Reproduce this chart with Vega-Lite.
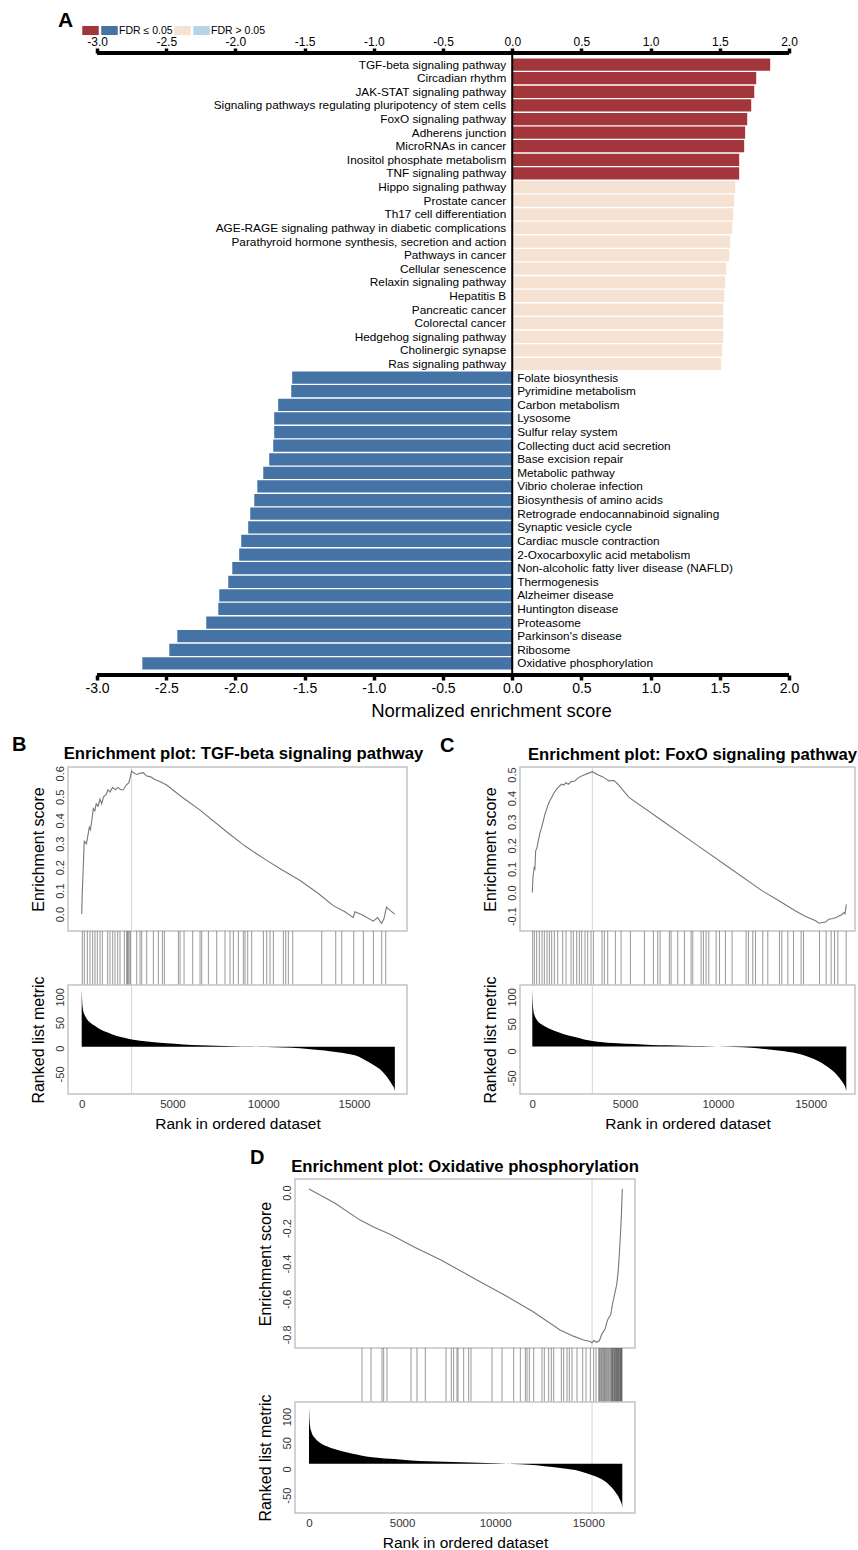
{
  "$schema": "https://vega.github.io/schema/vega-lite/v6.json",
  "background": "white",
  "padding": {"left": 12, "top": 10, "right": 0, "bottom": 0},
  "config": {
    "font": "Liberation Sans",
    "view": {"stroke": null},
    "axis": {"labelFont": "Liberation Sans", "titleFont": "Liberation Sans", "titleFontWeight": "normal", "grid": false, "ticks": false, "domain": false, "labelColor": "#333333", "titleColor": "black", "labelOverlap": false, "labelFlush": false, "labelBound": false},
    "title": {"font": "Liberation Sans", "color": "black"},
    "legend": {"labelFont": "Liberation Sans"}
  },
  "datasets": {
    "nes": [
      {"pathway": "TGF-beta signaling pathway", "nes": 1.864, "category": "Up FDR≤0.05"},
      {"pathway": "Circadian rhythm", "nes": 1.763, "category": "Up FDR≤0.05"},
      {"pathway": "JAK-STAT signaling pathway", "nes": 1.749, "category": "Up FDR≤0.05"},
      {"pathway": "Signaling pathways regulating pluripotency of stem cells", "nes": 1.727, "category": "Up FDR≤0.05"},
      {"pathway": "FoxO signaling pathway", "nes": 1.698, "category": "Up FDR≤0.05"},
      {"pathway": "Adherens junction", "nes": 1.683, "category": "Up FDR≤0.05"},
      {"pathway": "MicroRNAs in cancer", "nes": 1.676, "category": "Up FDR≤0.05"},
      {"pathway": "Inositol phosphate metabolism", "nes": 1.64, "category": "Up FDR≤0.05"},
      {"pathway": "TNF signaling pathway", "nes": 1.64, "category": "Up FDR≤0.05"},
      {"pathway": "Hippo signaling pathway", "nes": 1.611, "category": "Up FDR>0.05"},
      {"pathway": "Prostate cancer", "nes": 1.604, "category": "Up FDR>0.05"},
      {"pathway": "Th17 cell differentiation", "nes": 1.597, "category": "Up FDR>0.05"},
      {"pathway": "AGE-RAGE signaling pathway in diabetic complications", "nes": 1.59, "category": "Up FDR>0.05"},
      {"pathway": "Parathyroid hormone synthesis, secretion and action", "nes": 1.575, "category": "Up FDR>0.05"},
      {"pathway": "Pathways in cancer", "nes": 1.568, "category": "Up FDR>0.05"},
      {"pathway": "Cellular senescence", "nes": 1.546, "category": "Up FDR>0.05"},
      {"pathway": "Relaxin signaling pathway", "nes": 1.539, "category": "Up FDR>0.05"},
      {"pathway": "Hepatitis B", "nes": 1.532, "category": "Up FDR>0.05"},
      {"pathway": "Pancreatic cancer", "nes": 1.525, "category": "Up FDR>0.05"},
      {"pathway": "Colorectal cancer", "nes": 1.525, "category": "Up FDR>0.05"},
      {"pathway": "Hedgehog signaling pathway", "nes": 1.525, "category": "Up FDR>0.05"},
      {"pathway": "Cholinergic synapse", "nes": 1.517, "category": "Up FDR>0.05"},
      {"pathway": "Ras signaling pathway", "nes": 1.51, "category": "Up FDR>0.05"},
      {"pathway": "Folate biosynthesis", "nes": -1.59, "category": "Down FDR≤0.05"},
      {"pathway": "Pyrimidine metabolism", "nes": -1.597, "category": "Down FDR≤0.05"},
      {"pathway": "Carbon metabolism", "nes": -1.691, "category": "Down FDR≤0.05"},
      {"pathway": "Lysosome", "nes": -1.72, "category": "Down FDR≤0.05"},
      {"pathway": "Sulfur relay system", "nes": -1.72, "category": "Down FDR≤0.05"},
      {"pathway": "Collecting duct acid secretion", "nes": -1.727, "category": "Down FDR≤0.05"},
      {"pathway": "Base excision repair", "nes": -1.756, "category": "Down FDR≤0.05"},
      {"pathway": "Metabolic pathway", "nes": -1.799, "category": "Down FDR≤0.05"},
      {"pathway": "Vibrio cholerae infection", "nes": -1.842, "category": "Down FDR≤0.05"},
      {"pathway": "Biosynthesis of amino acids", "nes": -1.864, "category": "Down FDR≤0.05"},
      {"pathway": "Retrograde endocannabinoid signaling", "nes": -1.893, "category": "Down FDR≤0.05"},
      {"pathway": "Synaptic vesicle cycle", "nes": -1.908, "category": "Down FDR≤0.05"},
      {"pathway": "Cardiac muscle contraction", "nes": -1.958, "category": "Down FDR≤0.05"},
      {"pathway": "2-Oxocarboxylic acid metabolism", "nes": -1.973, "category": "Down FDR≤0.05"},
      {"pathway": "Non-alcoholic fatty liver disease (NAFLD)", "nes": -2.023, "category": "Down FDR≤0.05"},
      {"pathway": "Thermogenesis", "nes": -2.052, "category": "Down FDR≤0.05"},
      {"pathway": "Alzheimer disease", "nes": -2.117, "category": "Down FDR≤0.05"},
      {"pathway": "Huntington disease", "nes": -2.124, "category": "Down FDR≤0.05"},
      {"pathway": "Proteasome", "nes": -2.211, "category": "Down FDR≤0.05"},
      {"pathway": "Parkinson's disease", "nes": -2.42, "category": "Down FDR≤0.05"},
      {"pathway": "Ribosome", "nes": -2.478, "category": "Down FDR≤0.05"},
      {"pathway": "Oxidative phosphorylation", "nes": -2.673, "category": "Down FDR≤0.05"}
    ],
    "esB": [
      {"rank": 0, "es": 0.0}, {"rank": 30, "es": 0.09}, {"rank": 80, "es": 0.19}, {"rank": 140, "es": 0.31}, {"rank": 260, "es": 0.3}, {"rank": 330, "es": 0.33}, {"rank": 420, "es": 0.37}, {"rank": 480, "es": 0.36}, {"rank": 560, "es": 0.4}, {"rank": 640, "es": 0.45}, {"rank": 720, "es": 0.44}, {"rank": 800, "es": 0.47}, {"rank": 900, "es": 0.46}, {"rank": 1010, "es": 0.49}, {"rank": 1100, "es": 0.47}, {"rank": 1200, "es": 0.5}, {"rank": 1350, "es": 0.51}, {"rank": 1450, "es": 0.53}, {"rank": 1560, "es": 0.52}, {"rank": 1700, "es": 0.54}, {"rank": 1850, "es": 0.53}, {"rank": 2000, "es": 0.54}, {"rank": 2150, "es": 0.53}, {"rank": 2290, "es": 0.53}, {"rank": 2450, "es": 0.55}, {"rank": 2600, "es": 0.56}, {"rank": 2750, "es": 0.61}, {"rank": 2900, "es": 0.6}, {"rank": 3050, "es": 0.595}, {"rank": 3200, "es": 0.6}, {"rank": 3395, "es": 0.603}, {"rank": 3550, "es": 0.59}, {"rank": 3800, "es": 0.585}, {"rank": 4000, "es": 0.575}, {"rank": 4300, "es": 0.565}, {"rank": 4680, "es": 0.55}, {"rank": 5500, "es": 0.5}, {"rank": 6520, "es": 0.443}, {"rank": 8000, "es": 0.35}, {"rank": 9000, "es": 0.29}, {"rank": 10190, "es": 0.229}, {"rank": 11000, "es": 0.19}, {"rank": 12030, "es": 0.143}, {"rank": 13000, "es": 0.09}, {"rank": 13860, "es": 0.036}, {"rank": 14500, "es": 0.01}, {"rank": 14960, "es": -0.015}, {"rank": 15050, "es": 0.01}, {"rank": 15500, "es": -0.005}, {"rank": 16060, "es": -0.03}, {"rank": 16300, "es": -0.015}, {"rank": 16520, "es": -0.04}, {"rank": 16650, "es": -0.02}, {"rank": 16790, "es": 0.03}, {"rank": 17000, "es": 0.015}, {"rank": 17250, "es": 0.0}
    ],
    "hitsB": [
      {"rank": 35}, {"rank": 145}, {"rank": 310}, {"rank": 457}, {"rank": 604}, {"rank": 733}, {"rank": 862}, {"rank": 1008}, {"rank": 1136}, {"rank": 1430}, {"rank": 1558}, {"rank": 1706}, {"rank": 1835}, {"rank": 1982}, {"rank": 2110}, {"rank": 2350}, {"rank": 2478}, {"rank": 2520}, {"rank": 2570}, {"rank": 2650}, {"rank": 2699}, {"rank": 3030}, {"rank": 3212}, {"rank": 3306}, {"rank": 3581}, {"rank": 3948}, {"rank": 4224}, {"rank": 4444}, {"rank": 4554}, {"rank": 5325}, {"rank": 5418}, {"rank": 5638}, {"rank": 6115}, {"rank": 6519}, {"rank": 6611}, {"rank": 6978}, {"rank": 7437}, {"rank": 7896}, {"rank": 8171}, {"rank": 8355}, {"rank": 8630}, {"rank": 8906}, {"rank": 8998}, {"rank": 9145}, {"rank": 9366}, {"rank": 10008}, {"rank": 10192}, {"rank": 10375}, {"rank": 10559}, {"rank": 11110}, {"rank": 11238}, {"rank": 11385}, {"rank": 11624}, {"rank": 13223}, {"rank": 13994}, {"rank": 14325}, {"rank": 14986}, {"rank": 15518}, {"rank": 16069}, {"rank": 16529}, {"rank": 16749}
    ],
    "metricB": [
      {"rank": 0, "metric": 115}, {"rank": 25, "metric": 92}, {"rank": 55, "metric": 79}, {"rank": 120, "metric": 68}, {"rank": 184, "metric": 63}, {"rank": 300, "metric": 56}, {"rank": 460, "metric": 50}, {"rank": 700, "metric": 44}, {"rank": 1010, "metric": 37}, {"rank": 1400, "metric": 31}, {"rank": 1928, "metric": 24}, {"rank": 2400, "metric": 20}, {"rank": 2846, "metric": 16.5}, {"rank": 3600, "metric": 13}, {"rank": 4680, "metric": 9.5}, {"rank": 5600, "metric": 7.5}, {"rank": 6520, "metric": 6}, {"rank": 7400, "metric": 5}, {"rank": 8357, "metric": 4}, {"rank": 9300, "metric": 3.3}, {"rank": 10190, "metric": 2.5}, {"rank": 11100, "metric": 1.5}, {"rank": 12030, "metric": 0}, {"rank": 12900, "metric": -3}, {"rank": 13860, "metric": -6.6}, {"rank": 14780, "metric": -11.7}, {"rank": 15300, "metric": -17}, {"rank": 15700, "metric": -25}, {"rank": 16100, "metric": -33}, {"rank": 16400, "metric": -40}, {"rank": 16610, "metric": -47}, {"rank": 16800, "metric": -55}, {"rank": 16980, "metric": -64}, {"rank": 17120, "metric": -72}, {"rank": 17200, "metric": -77}, {"rank": 17250, "metric": -83}
    ],
    "peakB": [{"rank": 2750}],
    "esC": [
      {"rank": 0, "es": 0.0}, {"rank": 40, "es": 0.07}, {"rank": 100, "es": 0.105}, {"rank": 140, "es": 0.1}, {"rank": 180, "es": 0.176}, {"rank": 250, "es": 0.19}, {"rank": 323, "es": 0.219}, {"rank": 400, "es": 0.25}, {"rank": 503, "es": 0.276}, {"rank": 580, "es": 0.3}, {"rank": 683, "es": 0.332}, {"rank": 760, "es": 0.35}, {"rank": 862, "es": 0.375}, {"rank": 950, "es": 0.39}, {"rank": 1042, "es": 0.403}, {"rank": 1150, "es": 0.42}, {"rank": 1311, "es": 0.438}, {"rank": 1450, "es": 0.45}, {"rank": 1580, "es": 0.459}, {"rank": 1700, "es": 0.455}, {"rank": 1800, "es": 0.465}, {"rank": 1940, "es": 0.459}, {"rank": 2100, "es": 0.47}, {"rank": 2299, "es": 0.473}, {"rank": 2450, "es": 0.485}, {"rank": 2659, "es": 0.494}, {"rank": 2850, "es": 0.5}, {"rank": 3000, "es": 0.505}, {"rank": 3233, "es": 0.512}, {"rank": 3500, "es": 0.5}, {"rank": 3800, "es": 0.49}, {"rank": 4131, "es": 0.473}, {"rank": 4400, "es": 0.475}, {"rank": 4600, "es": 0.46}, {"rank": 5208, "es": 0.403}, {"rank": 7004, "es": 0.304}, {"rank": 8800, "es": 0.205}, {"rank": 10596, "es": 0.106}, {"rank": 12392, "es": 0.007}, {"rank": 13290, "es": -0.035}, {"rank": 14188, "es": -0.078}, {"rank": 14700, "es": -0.1}, {"rank": 15265, "es": -0.12}, {"rank": 15450, "es": -0.13}, {"rank": 15625, "es": -0.127}, {"rank": 15800, "es": -0.125}, {"rank": 15984, "es": -0.113}, {"rank": 16200, "es": -0.11}, {"rank": 16400, "es": -0.105}, {"rank": 16523, "es": -0.099}, {"rank": 16650, "es": -0.095}, {"rank": 16792, "es": -0.085}, {"rank": 16850, "es": -0.09}, {"rank": 16918, "es": -0.05}
    ],
    "hitsC": [
      {"rank": 20}, {"rank": 110}, {"rank": 235}, {"rank": 379}, {"rank": 523}, {"rank": 649}, {"rank": 792}, {"rank": 918}, {"rank": 1044}, {"rank": 1188}, {"rank": 1368}, {"rank": 1637}, {"rank": 1817}, {"rank": 2086}, {"rank": 2212}, {"rank": 2392}, {"rank": 2535}, {"rank": 2661}, {"rank": 2841}, {"rank": 2985}, {"rank": 3164}, {"rank": 3290}, {"rank": 3757}, {"rank": 3883}, {"rank": 4063}, {"rank": 4476}, {"rank": 4782}, {"rank": 5285}, {"rank": 6039}, {"rank": 6525}, {"rank": 6758}, {"rank": 6884}, {"rank": 7387}, {"rank": 7477}, {"rank": 7837}, {"rank": 8196}, {"rank": 8555}, {"rank": 8645}, {"rank": 9094}, {"rank": 9220}, {"rank": 9364}, {"rank": 9508}, {"rank": 9903}, {"rank": 10083}, {"rank": 10406}, {"rank": 10765}, {"rank": 11520}, {"rank": 11646}, {"rank": 11880}, {"rank": 12023}, {"rank": 12419}, {"rank": 12688}, {"rank": 13317}, {"rank": 13443}, {"rank": 13767}, {"rank": 14072}, {"rank": 14485}, {"rank": 14611}, {"rank": 15473}, {"rank": 15833}, {"rank": 16102}, {"rank": 16282}, {"rank": 16462}, {"rank": 16911}
    ],
    "metricC": [
      {"rank": 0, "metric": 114}, {"rank": 25, "metric": 90}, {"rank": 55, "metric": 76}, {"rank": 118, "metric": 66}, {"rank": 180, "metric": 61}, {"rank": 295, "metric": 55}, {"rank": 450, "metric": 50}, {"rank": 690, "metric": 45}, {"rank": 990, "metric": 40}, {"rank": 1370, "metric": 35}, {"rank": 1890, "metric": 29}, {"rank": 2350, "metric": 25}, {"rank": 2790, "metric": 21}, {"rank": 3530, "metric": 17}, {"rank": 4590, "metric": 14}, {"rank": 5490, "metric": 12.5}, {"rank": 6400, "metric": 11}, {"rank": 7260, "metric": 10.3}, {"rank": 8200, "metric": 9.5}, {"rank": 9120, "metric": 9}, {"rank": 10000, "metric": 8.2}, {"rank": 10900, "metric": 7}, {"rank": 11800, "metric": 5.5}, {"rank": 12650, "metric": 3}, {"rank": 13590, "metric": -1}, {"rank": 14500, "metric": -7}, {"rank": 15000, "metric": -13}, {"rank": 15400, "metric": -19}, {"rank": 15800, "metric": -27}, {"rank": 16080, "metric": -34}, {"rank": 16290, "metric": -40}, {"rank": 16470, "metric": -47}, {"rank": 16650, "metric": -55}, {"rank": 16790, "metric": -62}, {"rank": 16870, "metric": -68}, {"rank": 16918, "metric": -75}
    ],
    "peakC": [{"rank": 3233}],
    "esD": [
      {"rank": 0, "es": 0.02}, {"rank": 1400, "es": -0.06}, {"rank": 2740, "es": -0.155}, {"rank": 3500, "es": -0.195}, {"rank": 4350, "es": -0.235}, {"rank": 5700, "es": -0.31}, {"rank": 7035, "es": -0.377}, {"rank": 8800, "es": -0.48}, {"rank": 10617, "es": -0.585}, {"rank": 12000, "es": -0.67}, {"rank": 13480, "es": -0.775}, {"rank": 14200, "es": -0.81}, {"rank": 14700, "es": -0.83}, {"rank": 15090, "es": -0.84}, {"rank": 15200, "es": -0.847}, {"rank": 15300, "es": -0.835}, {"rank": 15450, "es": -0.845}, {"rank": 15600, "es": -0.835}, {"rank": 15720, "es": -0.8}, {"rank": 15900, "es": -0.77}, {"rank": 16000, "es": -0.73}, {"rank": 16075, "es": -0.71}, {"rank": 16200, "es": -0.69}, {"rank": 16300, "es": -0.63}, {"rank": 16400, "es": -0.58}, {"rank": 16525, "es": -0.52}, {"rank": 16600, "es": -0.45}, {"rank": 16660, "es": -0.36}, {"rank": 16720, "es": -0.25}, {"rank": 16780, "es": -0.12}, {"rank": 16826, "es": 0.02}
    ],
    "hitsD": [
      {"rank": 2846}, {"rank": 3330}, {"rank": 3920}, {"rank": 4010}, {"rank": 4189}, {"rank": 5478}, {"rank": 5800}, {"rank": 6248}, {"rank": 7358}, {"rank": 7644}, {"rank": 7769}, {"rank": 7948}, {"rank": 8002}, {"rank": 8307}, {"rank": 8575}, {"rank": 8700}, {"rank": 9828}, {"rank": 10365}, {"rank": 10992}, {"rank": 11350}, {"rank": 11618}, {"rank": 11708}, {"rank": 11833}, {"rank": 12066}, {"rank": 12513}, {"rank": 12638}, {"rank": 12872}, {"rank": 13014}, {"rank": 13140}, {"rank": 13552}, {"rank": 13677}, {"rank": 13856}, {"rank": 13981}, {"rank": 14125}, {"rank": 14393}, {"rank": 14697}, {"rank": 14876}, {"rank": 15109}, {"rank": 15288}, {"rank": 15414}, {"rank": 15557}, {"rank": 15600}, {"rank": 15646}, {"rank": 15700}, {"rank": 15736}, {"rank": 15780}, {"rank": 15825}, {"rank": 15870}, {"rank": 15915}, {"rank": 15960}, {"rank": 16004}, {"rank": 16050}, {"rank": 16094}, {"rank": 16150}, {"rank": 16200}, {"rank": 16237}, {"rank": 16270}, {"rank": 16290}, {"rank": 16309}, {"rank": 16340}, {"rank": 16380}, {"rank": 16400}, {"rank": 16420}, {"rank": 16452}, {"rank": 16480}, {"rank": 16500}, {"rank": 16524}, {"rank": 16545}, {"rank": 16560}, {"rank": 16595}, {"rank": 16620}, {"rank": 16640}, {"rank": 16667}, {"rank": 16700}, {"rank": 16720}, {"rank": 16738}, {"rank": 16760}, {"rank": 16775}, {"rank": 16790}, {"rank": 16810}
    ],
    "metricD": [
      {"rank": 0, "metric": 119}, {"rank": 25, "metric": 95}, {"rank": 55, "metric": 82}, {"rank": 118, "metric": 72}, {"rank": 180, "metric": 66}, {"rank": 295, "metric": 60}, {"rank": 450, "metric": 54}, {"rank": 690, "metric": 48}, {"rank": 990, "metric": 43}, {"rank": 1370, "metric": 38}, {"rank": 1890, "metric": 33}, {"rank": 2350, "metric": 29}, {"rank": 2790, "metric": 26}, {"rank": 3530, "metric": 22}, {"rank": 4590, "metric": 19}, {"rank": 5490, "metric": 16.5}, {"rank": 6400, "metric": 15}, {"rank": 7260, "metric": 14}, {"rank": 8200, "metric": 13}, {"rank": 9120, "metric": 12}, {"rank": 10000, "metric": 11}, {"rank": 10900, "metric": 9.5}, {"rank": 11800, "metric": 8}, {"rank": 12650, "metric": 5.5}, {"rank": 13500, "metric": 2}, {"rank": 14300, "metric": -2}, {"rank": 14900, "metric": -8}, {"rank": 15300, "metric": -13}, {"rank": 15700, "metric": -19}, {"rank": 16000, "metric": -26}, {"rank": 16250, "metric": -35}, {"rank": 16450, "metric": -44}, {"rank": 16620, "metric": -53}, {"rank": 16740, "metric": -62}, {"rank": 16800, "metric": -68}, {"rank": 16826, "metric": -75}
    ],
    "peakD": [{"rank": 15200}]
  },
  "spacing": 15,
  "vconcat": [
    {
      "width": 721,
      "height": 622,
      "title": {"text": "A", "anchor": "start", "frame": "group", "fontSize": 21, "fontWeight": "bold", "dx": -10},
      "resolve": {"scale": {"y": "independent"}},
      "layer": [
        {
          "data": {"name": "nes"},
          "layer": [
            {
              "mark": {"type": "bar"},
              "encoding": {
                "y": {"field": "pathway", "type": "nominal", "sort": null, "axis": null, "scale": {"paddingInner": 0.1, "paddingOuter": 0.4}},
                "x": {"field": "nes", "type": "quantitative", "scale": {"domain": [-3.21, 2.0], "nice": false},
                  "axis": {"orient": "bottom", "values": [-3, -2.5, -2, -1.5, -1, -0.5, 0, 0.5, 1, 1.5, 2], "labelExpr": "replace(format(datum.value, '.1f'), '\u2212', '-')", "ticks": true, "tickSize": 5, "tickWidth": 3.5, "tickColor": "black", "labelFontSize": 14, "labelColor": "black", "labelPadding": 1, "title": "Normalized enrichment score", "titleFontSize": 18.5, "titlePadding": 6, "titleX": 423, "titleAlign": "center"}},
                "color": {"field": "category", "type": "nominal",
                  "scale": {"domain": ["Up FDR≤0.05", "Down FDR≤0.05", "Up FDR>0.05", "Down FDR>0.05"], "range": ["#A3363B", "#4673A6", "#F6E2D3", "#B6D4E8"]},
                  "legend": {"orient": "none", "legendX": 14, "legendY": -31, "direction": "horizontal", "columns": 4, "title": null, "symbolType": "M-1,-0.55H1V0.55H-1Z", "symbolSize": 272, "symbolStrokeWidth": 0, "symbolOpacity": 1, "labelFontSize": 10.5, "labelColor": "black", "labelOffset": 1, "columnPadding": 1, "padding": 0,
                    "labelExpr": "datum.label == 'Down FDR≤0.05' ? 'FDR ≤ 0.05' : (datum.label == 'Down FDR>0.05' ? 'FDR > 0.05' : '')"}}
              }
            },
            {
              "mark": {"type": "text", "baseline": "middle", "fontSize": 11.8, "color": "black", "align": {"expr": "datum.nes > 0 ? 'right' : 'left'"}, "dx": {"expr": "datum.nes > 0 ? -6 : 5"}},
              "encoding": {
                "y": {"field": "pathway", "type": "nominal", "sort": null},
                "x": {"datum": 0, "type": "quantitative", "axis": {"orient": "top", "values": [-3, -2.5, -2, -1.5, -1, -0.5, 0, 0.5, 1, 1.5, 2], "labelExpr": "replace(format(datum.value, '.1f'), '\u2212', '-')", "ticks": true, "tickSize": 5, "tickWidth": 3.5, "tickColor": "black", "labelFontSize": 12, "labelColor": "black", "labelPadding": 0, "title": null}},
                "text": {"field": "pathway"}
              }
            }
          ]
        },
        {
          "data": {"values": [{}]},
          "layer": [
            {"mark": {"type": "rule", "color": "black", "strokeWidth": 4}, "encoding": {"x": {"datum": -3, "type": "quantitative", "axis": null}, "x2": {"datum": 2}, "y": {"datum": 1, "type": "quantitative", "scale": {"domain": [0, 1]}, "axis": null}}},
            {"mark": {"type": "rule", "color": "black", "strokeWidth": 4}, "encoding": {"x": {"datum": -3, "type": "quantitative", "axis": null}, "x2": {"datum": 2}, "y": {"datum": 0, "type": "quantitative", "scale": {"domain": [0, 1]}, "axis": null}}},
            {"mark": {"type": "rule", "color": "black", "strokeWidth": 2}, "encoding": {"x": {"datum": 0, "type": "quantitative", "axis": null}, "y": {"datum": 0, "type": "quantitative", "scale": {"domain": [0, 1]}, "axis": null}, "y2": {"datum": 1}}}
          ]
        }
      ]
    },
    {
      "spacing": 15,
      "hconcat": [
        {
          "title": {"text": "B", "anchor": "start", "frame": "group", "fontSize": 20, "fontWeight": "bold", "dx": -56, "offset": -10},
          "spacing": 0,
          "bounds": "flush",
          "vconcat": [
            {
              "width": 339, "height": 164,
              "title": {"text": "Enrichment plot: TGF-beta signaling pathway", "fontSize": 16.7, "fontWeight": "bold", "anchor": "middle", "frame": "group", "dx": 6, "offset": 3},
              "view": {"stroke": "#c4c4c4", "strokeWidth": 1.5},
              "layer": [
                {"data": {"name": "peakB"}, "mark": {"type": "rule", "color": "#d4d4d4", "strokeWidth": 1}, "encoding": {"x": {"field": "rank", "type": "quantitative", "scale": {"domain": [-755, 17920], "nice": false, "zero": false}, "axis": null}}},
                {"data": {"name": "esB"}, "mark": {"type": "line", "color": "#777777", "strokeWidth": 1.1},
                  "encoding": {
                    "x": {"field": "rank", "type": "quantitative", "scale": {"domain": [-755, 17920], "nice": false, "zero": false}, "axis": null},
                    "y": {"field": "es", "type": "quantitative", "scale": {"domain": [-0.072, 0.627], "nice": false, "zero": false},
                      "axis": {"title": "Enrichment score", "values": [0, 0.1, 0.2, 0.3, 0.4, 0.5, 0.6], "labelExpr": "replace(format(datum.value, '.1f'), '\u2212', '-')", "labelAngle": -90, "labelFontSize": 11, "labelPadding": 3, "titleFontSize": 16, "titlePadding": 8}}
                  }}
              ]
            },
            {
              "width": 339, "height": 54,
              "data": {"name": "hitsB"},
              "mark": {"type": "rule", "color": "#555555", "strokeWidth": 1, "opacity": 0.6},
              "encoding": {"x": {"field": "rank", "type": "quantitative", "scale": {"domain": [-755, 17920], "nice": false, "zero": false}, "axis": null}}
            },
            {
              "width": 339, "height": 109,
              "view": {"stroke": "#c4c4c4", "strokeWidth": 1.5},
              "layer": [
                {"data": {"name": "peakB"}, "mark": {"type": "rule", "color": "#d4d4d4", "strokeWidth": 1}, "encoding": {"x": {"field": "rank", "type": "quantitative", "scale": {"domain": [-755, 17920], "nice": false, "zero": false}}}},
                {"data": {"name": "metricB"}, "mark": {"type": "area", "color": "black", "interpolate": "monotone"},
                  "encoding": {
                    "x": {"field": "rank", "type": "quantitative", "scale": {"domain": [-755, 17920], "nice": false, "zero": false},
                      "axis": {"title": "Rank in ordered dataset", "values": [0, 5000, 10000, 15000], "format": "d", "labelFontSize": 11.5, "labelPadding": 4, "titleFontSize": 15.5, "titlePadding": 7}},
                    "y": {"field": "metric", "type": "quantitative", "scale": {"domain": [-89, 123], "nice": false, "zero": false},
                      "axis": {"title": "Ranked list metric", "values": [-50, 0, 50, 100], "labelExpr": "replace(format(datum.value, 'd'), '\u2212', '-')", "labelAngle": -90, "labelFontSize": 11, "labelPadding": 3, "titleFontSize": 16, "titlePadding": 8}},
                    "y2": {"datum": 3}
                  }}
              ]
            }
          ]
        },
        {
          "title": {"text": "C", "anchor": "start", "frame": "group", "fontSize": 20, "fontWeight": "bold", "dx": -80, "offset": -10},
          "spacing": 0,
          "bounds": "flush",
          "vconcat": [
            {
              "width": 335, "height": 164,
              "title": {"text": "Enrichment plot: FoxO signaling pathway", "fontSize": 16.7, "fontWeight": "bold", "anchor": "middle", "frame": "group", "dx": 5, "offset": 3},
              "view": {"stroke": "#c4c4c4", "strokeWidth": 1.5},
              "layer": [
                {"data": {"name": "peakC"}, "mark": {"type": "rule", "color": "#d4d4d4", "strokeWidth": 1}, "encoding": {"x": {"field": "rank", "type": "quantitative", "scale": {"domain": [-663, 17387], "nice": false, "zero": false}, "axis": null}}},
                {"data": {"name": "esC"}, "mark": {"type": "line", "color": "#777777", "strokeWidth": 1.1},
                  "encoding": {
                    "x": {"field": "rank", "type": "quantitative", "scale": {"domain": [-663, 17387], "nice": false, "zero": false}, "axis": null},
                    "y": {"field": "es", "type": "quantitative", "scale": {"domain": [-0.163, 0.532], "nice": false, "zero": false},
                      "axis": {"title": "Enrichment score", "values": [-0.1, 0, 0.1, 0.2, 0.3, 0.4, 0.5], "labelExpr": "replace(format(datum.value, '.1f'), '\u2212', '-')", "labelAngle": -90, "labelFontSize": 11, "labelPadding": 3, "titleFontSize": 16, "titlePadding": 8}}
                  }}
              ]
            },
            {
              "width": 335, "height": 54,
              "data": {"name": "hitsC"},
              "mark": {"type": "rule", "color": "#555555", "strokeWidth": 1, "opacity": 0.6},
              "encoding": {"x": {"field": "rank", "type": "quantitative", "scale": {"domain": [-663, 17387], "nice": false, "zero": false}, "axis": null}}
            },
            {
              "width": 335, "height": 109,
              "view": {"stroke": "#c4c4c4", "strokeWidth": 1.5},
              "layer": [
                {"data": {"name": "peakC"}, "mark": {"type": "rule", "color": "#d4d4d4", "strokeWidth": 1}, "encoding": {"x": {"field": "rank", "type": "quantitative", "scale": {"domain": [-663, 17387], "nice": false, "zero": false}}}},
                {"data": {"name": "metricC"}, "mark": {"type": "area", "color": "black", "interpolate": "monotone"},
                  "encoding": {
                    "x": {"field": "rank", "type": "quantitative", "scale": {"domain": [-663, 17387], "nice": false, "zero": false},
                      "axis": {"title": "Rank in ordered dataset", "values": [0, 5000, 10000, 15000], "format": "d", "labelFontSize": 11.5, "labelPadding": 4, "titleFontSize": 15.5, "titlePadding": 7}},
                    "y": {"field": "metric", "type": "quantitative", "scale": {"domain": [-80, 122], "nice": false, "zero": false},
                      "axis": {"title": "Ranked list metric", "values": [-50, 0, 50, 100], "labelExpr": "replace(format(datum.value, 'd'), '\u2212', '-')", "labelAngle": -90, "labelFontSize": 11, "labelPadding": 3, "titleFontSize": 16, "titlePadding": 8}},
                    "y2": {"datum": 8}
                  }}
              ]
            }
          ]
        }
      ]
    },
    {
      "spacing": 0,
      "hconcat": [
        {"width": 182, "height": 5, "data": {"values": [{}]}, "mark": {"type": "point", "opacity": 0}},
        {
          "title": {"text": "D", "anchor": "start", "frame": "group", "fontSize": 20, "fontWeight": "bold", "dx": -45, "offset": -10},
          "spacing": 0,
          "bounds": "flush",
          "vconcat": [
            {
              "width": 340, "height": 169,
              "title": {"text": "Enrichment plot: Oxidative phosphorylation", "fontSize": 16.7, "fontWeight": "bold", "anchor": "middle", "frame": "group", "offset": 3},
              "view": {"stroke": "#c4c4c4", "strokeWidth": 1.5},
              "layer": [
                {"data": {"name": "peakD"}, "mark": {"type": "rule", "color": "#d4d4d4", "strokeWidth": 1}, "encoding": {"x": {"field": "rank", "type": "quantitative", "scale": {"domain": [-752, 17508], "nice": false, "zero": false}, "axis": null}}},
                {"data": {"name": "esD"}, "mark": {"type": "line", "color": "#777777", "strokeWidth": 1.1},
                  "encoding": {
                    "x": {"field": "rank", "type": "quantitative", "scale": {"domain": [-752, 17508], "nice": false, "zero": false}, "axis": null},
                    "y": {"field": "es", "type": "quantitative", "scale": {"domain": [-0.877, 0.077], "nice": false, "zero": false},
                      "axis": {"title": "Enrichment score", "values": [-0.8, -0.6, -0.4, -0.2, 0], "labelExpr": "replace(format(datum.value, '.1f'), '\u2212', '-')", "labelAngle": -90, "labelFontSize": 11, "labelPadding": 3, "titleFontSize": 16, "titlePadding": 8}}
                  }}
              ]
            },
            {
              "width": 340, "height": 54,
              "data": {"name": "hitsD"},
              "mark": {"type": "rule", "color": "#555555", "strokeWidth": 1, "opacity": 0.6},
              "encoding": {"x": {"field": "rank", "type": "quantitative", "scale": {"domain": [-752, 17508], "nice": false, "zero": false}, "axis": null}}
            },
            {
              "width": 340, "height": 111,
              "view": {"stroke": "#c4c4c4", "strokeWidth": 1.5},
              "layer": [
                {"data": {"name": "peakD"}, "mark": {"type": "rule", "color": "#d4d4d4", "strokeWidth": 1}, "encoding": {"x": {"field": "rank", "type": "quantitative", "scale": {"domain": [-752, 17508], "nice": false, "zero": false}}}},
                {"data": {"name": "metricD"}, "mark": {"type": "area", "color": "black", "interpolate": "monotone"},
                  "encoding": {
                    "x": {"field": "rank", "type": "quantitative", "scale": {"domain": [-752, 17508], "nice": false, "zero": false},
                      "axis": {"title": "Rank in ordered dataset", "values": [0, 5000, 10000, 15000], "format": "d", "labelFontSize": 11.5, "labelPadding": 4, "titleFontSize": 15.5, "titlePadding": 7}},
                    "y": {"field": "metric", "type": "quantitative", "scale": {"domain": [-84, 128], "nice": false, "zero": false},
                      "axis": {"title": "Ranked list metric", "values": [-50, 0, 50, 100], "labelExpr": "replace(format(datum.value, 'd'), '\u2212', '-')", "labelAngle": -90, "labelFontSize": 11, "labelPadding": 3, "titleFontSize": 16, "titlePadding": 8}},
                    "y2": {"datum": 10}
                  }}
              ]
            }
          ]
        }
      ]
    }
  ]
}
